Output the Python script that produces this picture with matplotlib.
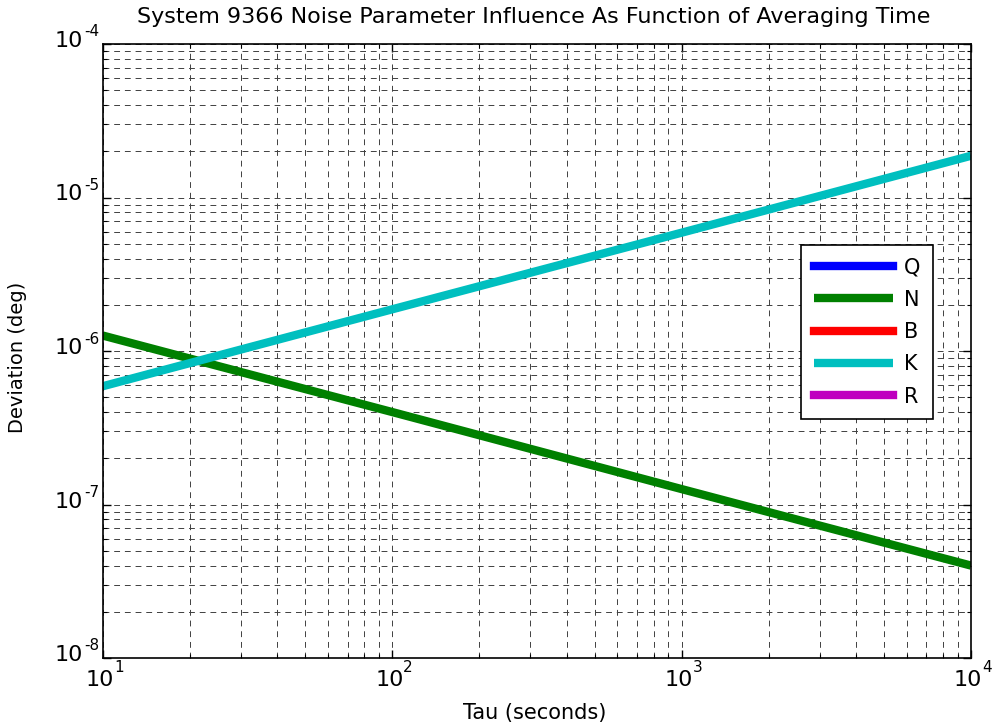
import matplotlib
matplotlib.use("Agg")
import matplotlib.pyplot as plt
from matplotlib.ticker import LogLocator, NullFormatter
import numpy as np

plt.rcParams['font.family'] = ['DejaVu Sans']

# Data
tau = [10, 100, 1000, 10000]
Q_vals = []
N_vals = [1.26e-6, 4.0e-7, 1.26e-7, 4.0e-8]
B_vals = []
K_vals = [5.9e-7, 1.87e-6, 5.9e-6, 1.87e-5]
R_vals = []

series_names = ['Q', 'N', 'B', 'K', 'R']
series_colors = ['#0000ff', '#008000', '#ff0000', '#00bfbf', '#bf00bf']

x_exponents = [1, 2, 3, 4]
y_exponents = [-8, -7, -6, -5, -4]

fig = plt.figure(figsize=(9.96, 7.27), dpi=100)
ax = fig.add_axes([103/996, 1-658/727, (971-103)/996, (658-44)/727])

data = [Q_vals, N_vals, B_vals, K_vals, R_vals]
for name, vals, col in zip(series_names, data, series_colors):
    if len(vals):
        ax.plot(tau, vals, color=col, lw=6, label=name, solid_capstyle='butt')
    else:
        ax.plot([], [], color=col, lw=6, label=name)

ax.set_xscale('log')
ax.set_yscale('log')
ax.set_xlim(10, 1e4)
ax.set_ylim(1e-8, 1e-4)

ax.xaxis.set_major_locator(LogLocator(base=10, numticks=10))
ax.yaxis.set_major_locator(LogLocator(base=10, numticks=10))
ax.xaxis.set_minor_locator(LogLocator(base=10, subs=np.arange(2, 10), numticks=20))
ax.yaxis.set_minor_locator(LogLocator(base=10, subs=np.arange(2, 10), numticks=20))
ax.xaxis.set_major_formatter(NullFormatter())
ax.yaxis.set_major_formatter(NullFormatter())
ax.xaxis.set_minor_formatter(NullFormatter())
ax.yaxis.set_minor_formatter(NullFormatter())

ax.grid(True, which='both', color='#404040', linestyle=(0, (6, 5)), linewidth=0.7)
ax.set_axisbelow(True)
ax.tick_params(which='both', direction='in', top=True, right=True, colors='black')
ax.tick_params(which='major', length=6, width=1)
ax.tick_params(which='minor', length=3, width=0.8)
for s in ax.spines.values():
    s.set_linewidth(1.2)

# MATLAB-style tick labels: "10" with raised exponent
for e in x_exponents:
    ax.annotate('10', xy=(10.0**e, 0), xycoords=('data', 'axes fraction'),
                xytext=(-3, -22), textcoords='offset pixels',
                ha='center', va='center', fontsize=16)
    ax.annotate('%d' % e, xy=(10.0**e, 0), xycoords=('data', 'axes fraction'),
                xytext=(11, -10), textcoords='offset pixels',
                ha='left', va='center', fontsize=11)
for e in y_exponents:
    ax.annotate('10', xy=(0, 10.0**e), xycoords=('axes fraction', 'data'),
                xytext=(-20, 3), textcoords='offset pixels',
                ha='right', va='center', fontsize=16)
    ax.annotate('%d' % e, xy=(0, 10.0**e), xycoords=('axes fraction', 'data'),
                xytext=(-19, 12), textcoords='offset pixels',
                ha='left', va='center', fontsize=11)

fig.text(0.5*(122+945)/996, 1-17/727, 'System 9366 Noise Parameter Influence As Function of Averaging Time',
         ha='center', va='center', fontsize=16)
fig.text(535/996, 1-713/727, 'Tau (seconds)', ha='center', va='center', fontsize=15)
fig.text(18/996, 1-357/727, 'Deviation (deg)', ha='center', va='center', rotation=90, fontsize=14)

leg = ax.legend(loc='upper left', bbox_to_anchor=((801-103)/868, 1-(245-44)/614),
                borderaxespad=0, fontsize=15, fancybox=False, edgecolor='black', framealpha=1,
                handlelength=3.8, handletextpad=0.55, labelspacing=0.59, borderpad=0.6)
leg.get_frame().set_linewidth(1.2)

fig.savefig('out.png', dpi=100)
